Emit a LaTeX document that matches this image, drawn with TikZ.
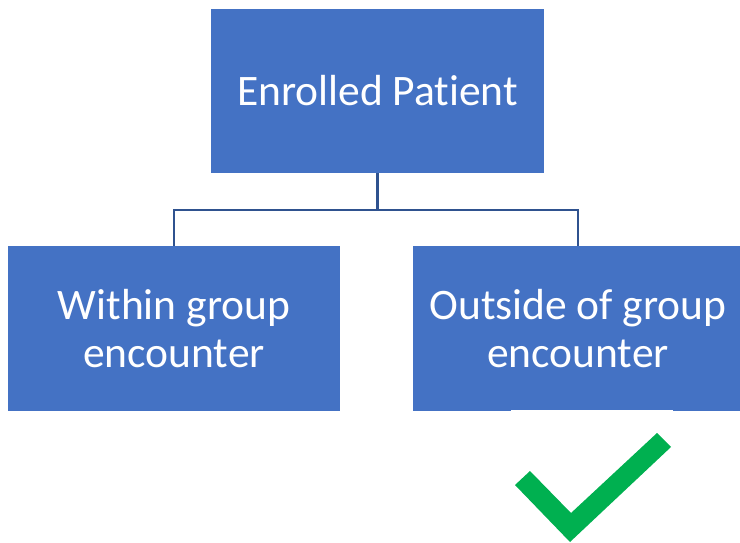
\documentclass[tikz,border=0pt]{standalone}
\usepackage{fontspec}
\setmainfont[Ligatures=NoCommon]{Carlito}
\usetikzlibrary{positioning}

\begin{document}
\begin{tikzpicture}[x=1pt, y=-1pt]
    % Define colours
    \definecolor{boxColour}{HTML}{4472C4}
    \definecolor{lineColour}{HTML}{2F528F}
    \definecolor{tickColour}{HTML}{00B050}

    \tikzset{
        groupbox/.style={fill=boxColour, draw=none, inner sep=0pt, minimum height=165pt,
            text=white, align=center, font=\fontsize{43.5}{48}\selectfont},
        link/.style={draw=lineColour, line width=2.2pt}
    }

    % Fix the page size
    \useasboundingbox (0,0) rectangle (740,543);

    % Draw the boxes
    \node[groupbox, minimum width=333pt, minimum height=164pt] (enrolled) at (377.5,91) {Enrolled Patient};
    \node[groupbox, minimum width=332pt] (within) at (174,328.5) {Within group\\encounter};
    \node[groupbox, minimum width=330pt] (outside) at (578,328.5) {Outside of group\\encounter};

    % Draw the tree connectors
    \draw[link] (enrolled.south) -- ++(0,37) -| (within.north);
    \draw[link] (enrolled.south) -- ++(0,37) -| (outside.north);

    % Draw the strip under the right box
    \fill[white] (511,409.5) rectangle (673,412);

    % Draw the check mark
    \fill[tickColour] (515,485) -- (530,471) -- (571,513) -- (657,433)
        -- (671,447) -- (570,542) -- cycle;

\end{tikzpicture}
\end{document}
